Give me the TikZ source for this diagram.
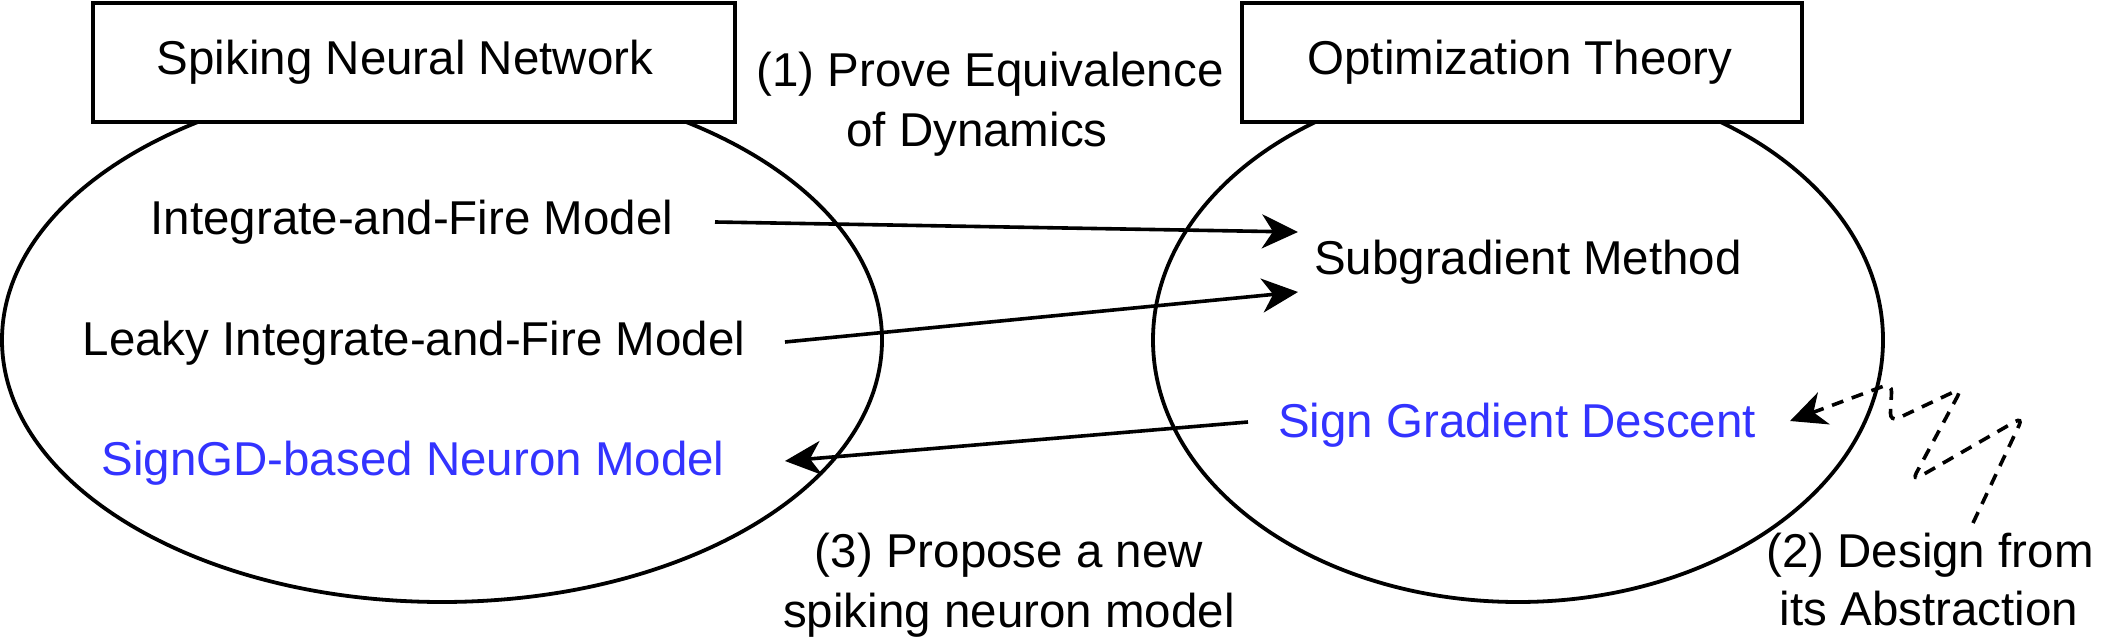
\documentclass[tikz,border=0pt]{standalone}
\usepackage{fontspec}
\setmainfont{Liberation Sans}
\usetikzlibrary{arrows.meta}
\definecolor{sgblue}{RGB}{51,51,255}
\begin{document}
\begin{tikzpicture}[x=1pt,y=-1pt,
  lbl/.style={inner sep=0pt,anchor=base,font=\fontsize{47.5}{60}\selectfont},
  blue lbl/.style={lbl,text=sgblue},
  shapeline/.style={line width=3.8pt},
  boxline/.style={line width=4.2pt,fill=white},
  conn/.style={line width=3.6pt,-{Stealth[length=36pt,width=34pt,inset=11pt]}},
  dconn/.style={conn,dash pattern=on 12pt off 9pt,rounded corners=9pt}]
\useasboundingbox (0,0) rectangle (2104,644);
\fill[white] (0,0) rectangle (2104,644);
% ellipses
\draw[shapeline] (442,340) ellipse [x radius=440, y radius=262];
\draw[shapeline] (1518,340) ellipse [x radius=365, y radius=262];
% boxes
\draw[boxline] (93,3) rectangle (735,122);
\draw[boxline] (1242,3) rectangle (1802,122);
\node[lbl] (snn) at (405,75) {Spiking Neural Network};
\node[lbl] (opt) at (1520,75) {Optimization Theory};
% inner texts
\node[lbl] (ifm) at (412,235) {Integrate-and-Fire Model};
\node[lbl] (lif) at (414,355) {Leaky Integrate-and-Fire Model};
\node[blue lbl] (sgn) at (413,475) {SignGD-based Neuron Model};
\node[lbl] (sub) at (1528,275) {Subgradient Method};
\node[blue lbl] (sgd) at (1517,437) {Sign Gradient Descent};
% step labels
\node[lbl] (s1a) at (990,87) {(1) Prove Equivalence};
\node[lbl] (s1b) at (977,147) {of Dynamics};
\node[lbl] (s3a) at (1009,567) {(3) Propose a new};
\node[lbl] (s3b) at (1009,627) {spiking neuron model};
\node[lbl] (s2a) at (1930,567) {(2) Design from};
\node[lbl] (s2b) at (1929,625) {its Abstraction};
% connector end points
\coordinate (a1) at (715,222);
\coordinate (a2) at (1298,232);
\coordinate (b1) at (785,342);
\coordinate (b2) at (1298,292);
\coordinate (c1) at (1248,422);
\coordinate (c2) at (785,461);
\coordinate (d0) at (1973,523);
\coordinate (d1) at (2023,417);
\coordinate (d2) at (1912,481);
\coordinate (d3) at (1962,388);
\coordinate (d4) at (1890,422);
\coordinate (d5) at (1892,383);
\coordinate (d6) at (1790,421);
% connectors
\draw[conn] (a1) -- (a2);
\draw[conn] (b1) -- (b2);
\draw[conn] (c1) -- (c2);
\draw[dconn] (d0) -- (d1) -- (d2) -- (d3) -- (d4) -- (d5) -- (d6);
\end{tikzpicture}
\end{document}
